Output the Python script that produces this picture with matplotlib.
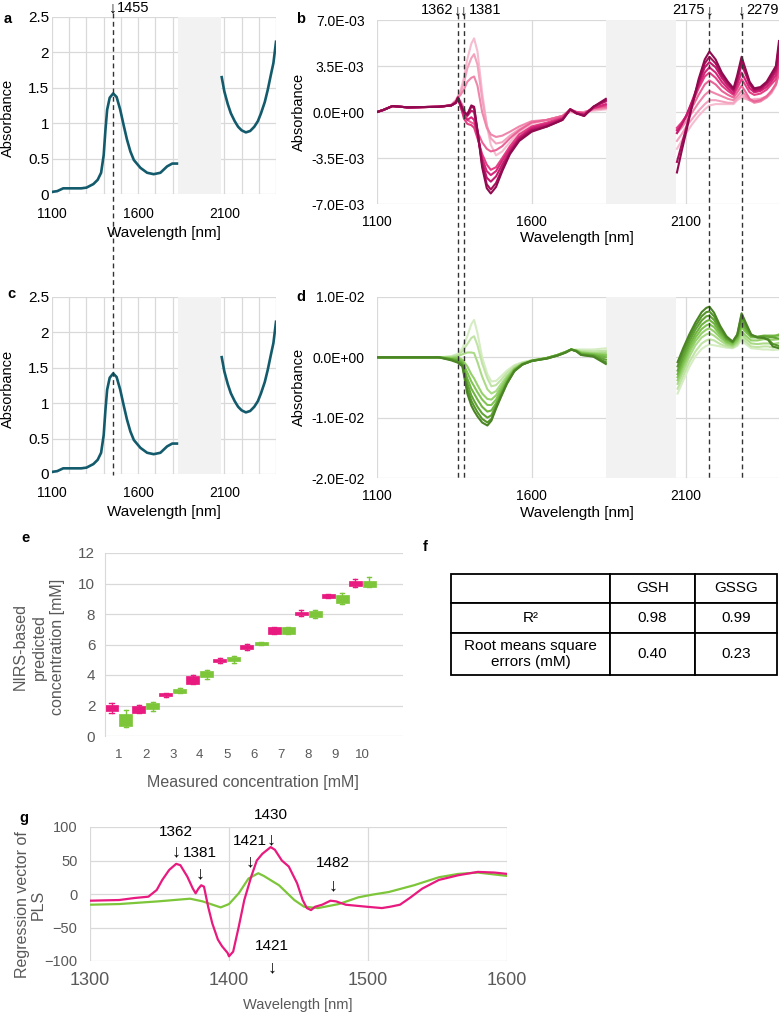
import numpy as np
import matplotlib
matplotlib.use("Agg")
import matplotlib.pyplot as plt
import matplotlib.transforms as mtransforms
from matplotlib.lines import Line2D
from matplotlib.ticker import FuncFormatter

plt.rcParams['font.family'] = ['Liberation Sans', 'DejaVu Sans']

# ---- panel a / c : raw absorbance spectrum ----
abs_wl_left = [1100, 1130, 1165, 1220, 1270, 1300, 1340, 1365, 1385, 1400, 1410, 1420, 1435,
               1455, 1475, 1496, 1515, 1535, 1555, 1575, 1613, 1652, 1690, 1729, 1768, 1798, 1825]
abs_left = [0.03, 0.04, 0.08, 0.08, 0.08, 0.09, 0.14, 0.20, 0.30, 0.55, 0.90, 1.19, 1.36,
            1.42, 1.37, 1.19, 0.98, 0.77, 0.60, 0.48, 0.37, 0.30, 0.28, 0.30, 0.39, 0.43, 0.43]
abs_wl_right = [2085, 2100, 2120, 2138, 2160, 2180, 2200, 2225, 2250, 2274, 2295, 2313,
                2335, 2352, 2370, 2385, 2400]
abs_right = [1.65, 1.45, 1.27, 1.14, 1.03, 0.95, 0.90, 0.87, 0.89, 0.95, 1.03, 1.14,
             1.30, 1.47, 1.68, 1.85, 2.15]

# ---- panel b : GSH difference spectra (x1e-3), lightest -> darkest ----
b_wl_left = [1100, 1120, 1150, 1200, 1300, 1340, 1355, 1362, 1370, 1381, 1392, 1405, 1414, 1425,
             1440, 1455, 1468, 1485, 1505, 1530, 1560, 1600, 1650, 1700, 1725, 1745, 1770, 1800, 1840]
b_left = [
    [0.0, 0.15, 0.45, 0.35, 0.4, 0.55, 0.9, 1.2, 1.6, 2.6, 4.0, 5.2, 5.6, 4.6, 1.5, -1.0, -2.5, -3.3, -3.0, -2.3, -1.5, -0.9, -0.6, -0.3, 0.0, -0.1, 0.0, 0.1, 0.2],
    [0.0, 0.15, 0.45, 0.35, 0.4, 0.55, 0.9, 1.2, 1.5, 2.2, 3.3, 4.1, 4.4, 3.6, 1.0, -1.0, -2.0, -2.4, -2.3, -1.8, -1.3, -0.8, -0.6, -0.3, 0.1, 0.0, 0.0, 0.2, 0.3],
    [0.0, 0.15, 0.45, 0.35, 0.4, 0.5, 0.8, 1.1, 1.3, 1.7, 2.3, 2.6, 2.7, 2.0, 0.0, -1.2, -1.7, -1.9, -1.8, -1.5, -1.1, -0.7, -0.6, -0.3, 0.1, -0.1, 0.0, 0.2, 0.3],
    [0.0, 0.15, 0.45, 0.35, 0.4, 0.5, 0.8, 1.1, 0.8, 0.3, -0.6, -0.8, -0.9, -1.5, -2.3, -2.8, -3.0, -2.9, -2.6, -2.0, -1.4, -0.8, -0.6, -0.3, 0.2, 0.0, -0.1, 0.3, 0.4],
    [0.0, 0.15, 0.45, 0.35, 0.4, 0.5, 0.8, 1.0, 0.5, -0.5, -0.9, -1.0, -1.2, -2.0, -3.2, -4.0, -4.4, -4.2, -3.5, -2.6, -1.7, -1.1, -0.8, -0.4, 0.2, 0.0, -0.1, 0.3, 0.5],
    [0.0, 0.15, 0.45, 0.35, 0.4, 0.5, 0.7, 1.0, 0.4, -0.3, -0.6, -0.4, -0.6, -1.8, -3.5, -4.5, -4.8, -4.5, -3.7, -2.8, -1.9, -1.2, -0.9, -0.5, 0.2, -0.1, -0.2, 0.3, 0.6],
    [0.0, 0.15, 0.45, 0.35, 0.4, 0.5, 0.7, 1.1, 0.5, -0.1, -0.3, 0.1, 0.0, -1.5, -3.8, -5.0, -5.3, -4.9, -4.0, -3.0, -2.0, -1.3, -1.0, -0.5, 0.2, -0.1, -0.2, 0.4, 0.8],
    [0.0, 0.15, 0.45, 0.35, 0.4, 0.5, 0.7, 1.1, 0.6, 0.0, -0.2, 0.4, 0.3, -1.5, -4.0, -5.5, -5.9, -5.4, -4.3, -3.1, -2.1, -1.4, -1.1, -0.6, 0.2, -0.1, -0.3, 0.4, 0.9],
    [0.0, 0.15, 0.45, 0.35, 0.4, 0.5, 0.7, 1.1, 0.6, 0.0, -0.2, 0.5, 0.4, -1.4, -4.2, -5.8, -6.2, -5.7, -4.5, -3.2, -2.2, -1.5, -1.1, -0.6, 0.2, -0.1, -0.3, 0.4, 1.0],
]
b_wl_right = [2070, 2085, 2100, 2120, 2140, 2160, 2175, 2195, 2215, 2235, 2253, 2265, 2279,
              2290, 2305, 2320, 2340, 2360, 2375, 2390, 2400]
b_right = [
    [-2.8, -2.2, -1.6, -0.9, -0.3, 0.2, 0.5, 0.6, 0.6, 0.6, 0.6, 0.9, 1.1, 1.0, 0.9, 1.0, 1.0, 1.1, 1.4, 2.0, 3.0],
    [-2.2, -1.7, -1.1, -0.5, 0.1, 0.6, 0.9, 0.9, 0.8, 0.7, 0.7, 1.0, 1.3, 1.1, 0.9, 0.9, 1.0, 1.2, 1.5, 2.2, 3.2],
    [-1.6, -1.2, -0.7, 0.0, 0.7, 1.3, 1.6, 1.4, 1.2, 1.0, 0.9, 1.2, 1.6, 1.3, 0.9, 0.7, 0.8, 1.1, 1.5, 2.1, 3.0],
    [-1.3, -0.9, -0.4, 0.4, 1.3, 2.1, 2.4, 2.1, 1.6, 1.3, 1.1, 1.5, 2.0, 1.6, 1.0, 0.8, 0.9, 1.2, 1.6, 2.1, 3.0],
    [-1.2, -0.8, -0.3, 0.7, 1.8, 2.7, 3.0, 2.6, 2.0, 1.6, 1.3, 1.8, 2.5, 2.1, 1.5, 1.3, 1.4, 1.7, 2.1, 2.5, 3.5],
    [-1.4, -0.9, -0.3, 0.8, 2.0, 3.0, 3.4, 3.0, 2.3, 1.8, 1.4, 2.1, 3.0, 2.5, 1.8, 1.5, 1.6, 1.9, 2.3, 2.8, 4.0],
    [-1.6, -1.0, -0.3, 0.9, 2.2, 3.4, 3.8, 3.4, 2.6, 2.0, 1.6, 2.4, 3.6, 3.0, 2.1, 1.6, 1.7, 2.1, 2.5, 3.1, 4.5],
    [-3.8, -2.5, -1.2, 0.6, 2.3, 3.7, 4.2, 3.7, 2.8, 2.2, 1.7, 2.6, 3.9, 3.2, 2.2, 1.7, 1.8, 2.2, 2.7, 3.3, 5.0],
    [-4.6, -3.0, -1.5, 0.6, 2.5, 4.0, 4.6, 4.0, 3.0, 2.3, 1.8, 2.8, 4.2, 3.4, 2.3, 1.8, 1.9, 2.3, 2.9, 3.5, 5.4],
]
b_colors = ['#f6bccf', '#f3a2bf', '#ef86ab', '#ea6497', '#e34185', '#d6267a', '#c21a6c', '#a8105c', '#8f0a4f']

# ---- panel d : GSSG difference spectra (x1e-3), lightest -> darkest ----
d_wl_left = [1100, 1200, 1300, 1340, 1362, 1376, 1392, 1405, 1414, 1425, 1440, 1457, 1470, 1485,
             1500, 1520, 1544, 1570, 1600, 1650, 1684, 1710, 1728, 1745, 1760, 1800, 1840]
d_left = [
    [0, 0, 0, 0.2, 0.6, 1.5, 3.5, 5.5, 6.2, 4.0, 0.0, -2.8, -4.0, -3.9, -3.2, -2.2, -1.3, -0.8, -0.5, -0.1, 0.4, 0.9, 1.2, 1.3, 1.3, 1.3, 1.5],
    [0, 0, 0, 0.1, 0.4, 1.0, 2.2, 3.2, 3.5, 2.0, -1.0, -3.5, -4.8, -4.6, -3.8, -2.6, -1.5, -0.9, -0.5, -0.1, 0.4, 0.9, 1.3, 1.2, 1.1, 1.0, 1.1],
    [0, 0, 0, 0.0, 0.2, 0.5, 0.8, 0.8, 0.7, -0.8, -3.2, -5.3, -6.0, -5.6, -4.5, -3.1, -1.8, -1.0, -0.5, -0.1, 0.4, 0.9, 1.3, 1.1, 0.9, 0.7, 0.8],
    [0, 0, 0, -0.1, 0.0, -0.4, -1.5, -2.8, -3.5, -4.6, -6.0, -6.9, -7.0, -6.3, -5.0, -3.4, -1.9, -1.1, -0.6, -0.1, 0.4, 0.9, 1.3, 1.1, 0.8, 0.6, 0.5],
    [0, 0, 0, -0.2, -0.2, -0.7, -2.5, -4.0, -4.8, -5.8, -7.0, -7.9, -7.9, -7.0, -5.5, -3.7, -2.0, -1.1, -0.6, -0.1, 0.4, 0.9, 1.3, 1.1, 0.7, 0.5, 0.3],
    [0, 0, 0, -0.3, -0.4, -0.9, -3.5, -5.2, -6.0, -7.0, -8.2, -9.0, -8.8, -7.6, -6.0, -4.0, -2.1, -1.1, -0.6, -0.1, 0.4, 0.9, 1.3, 1.1, 0.6, 0.4, 0.0],
    [0, 0, 0, -0.3, -0.6, -1.1, -4.3, -6.3, -7.2, -8.2, -9.3, -10.0, -9.6, -8.0, -6.3, -4.2, -2.2, -1.2, -0.6, -0.1, 0.3, 0.8, 1.3, 1.0, 0.5, 0.3, -0.4],
    [0, 0, 0, -0.4, -0.8, -1.3, -5.2, -7.2, -8.1, -9.1, -10.2, -10.8, -10.2, -8.3, -6.5, -4.3, -2.3, -1.2, -0.6, -0.2, 0.3, 0.8, 1.3, 1.0, 0.4, 0.2, -0.8],
    [0, 0, 0, -0.5, -0.9, -1.5, -6.0, -8.0, -8.9, -9.8, -10.8, -11.3, -10.5, -8.5, -6.7, -4.4, -2.3, -1.2, -0.6, -0.2, 0.3, 0.8, 1.3, 1.0, 0.4, 0.1, -1.1],
]
d_wl_right = [2072, 2090, 2110, 2130, 2150, 2165, 2175, 2190, 2210, 2230, 2250, 2265, 2279,
              2292, 2310, 2330, 2350, 2365, 2380, 2400]
d_right = [
    [-6.0, -3.9, -1.6, 0.2, 1.4, 1.9, 2.1, 2.0, 1.8, 1.6, 1.5, 1.9, 2.9, 2.2, 1.5, 1.4, 1.3, 1.3, 1.2, 1.3],
    [-5.2, -3.1, -0.8, 1.0, 2.3, 2.8, 3.0, 2.8, 2.2, 1.8, 1.6, 2.1, 3.3, 2.6, 1.8, 1.7, 1.8, 1.8, 1.6, 1.8],
    [-4.4, -2.3, 0.1, 2.0, 3.3, 3.8, 4.0, 3.6, 2.8, 2.1, 1.8, 2.4, 3.8, 3.1, 2.3, 2.2, 2.3, 2.3, 2.2, 2.4],
    [-3.8, -1.6, 0.8, 2.7, 4.0, 4.6, 4.8, 4.3, 3.3, 2.4, 2.0, 2.7, 4.3, 3.6, 2.8, 2.8, 3.0, 3.0, 2.9, 3.0],
    [-3.3, -1.0, 1.4, 3.3, 4.7, 5.3, 5.5, 5.0, 3.7, 2.6, 2.2, 3.0, 5.0, 4.2, 3.3, 3.3, 3.5, 3.5, 3.4, 3.8],
    [-2.8, -0.4, 2.0, 3.9, 5.4, 6.0, 6.2, 5.6, 4.1, 2.9, 2.4, 3.3, 5.6, 4.6, 3.5, 3.4, 3.6, 3.6, 3.6, 3.6],
    [-2.2, 0.2, 2.6, 4.6, 6.1, 6.8, 6.9, 6.2, 4.5, 3.1, 2.5, 3.5, 6.3, 5.0, 3.6, 3.4, 3.5, 3.4, 3.3, 3.1],
    [-1.5, 0.9, 3.2, 5.2, 6.8, 7.5, 7.6, 6.8, 4.9, 3.3, 2.6, 3.7, 7.0, 5.5, 3.7, 3.3, 3.3, 3.0, 2.2, 1.9],
    [-0.8, 1.5, 3.8, 5.8, 7.5, 8.2, 8.4, 7.4, 5.2, 3.5, 2.6, 3.8, 7.3, 5.8, 3.8, 3.3, 3.2, 2.9, 1.8, 1.5],
]
d_colors = ['#d6edc4', '#c1e4a6', '#abdb88', '#95d06b', '#80c452', '#70b441', '#62a435', '#56952c', '#4a8425']

# marked wavelengths
mark_a = 1455
marks_b = [1362, 1381, 2175, 2279]

# ---- panel e : predicted vs measured (box stats) ----
conc = np.arange(1, 11)
gsh_whislo = [1.54, 1.54, 2.54, 3.38, 4.78, 5.66, 6.71, 7.88, 9.03, 9.78]
gsh_q1 = [1.64, 1.54, 2.63, 3.44, 4.82, 5.72, 6.71, 7.92, 9.08, 9.82]
gsh_q3 = [2.06, 1.95, 2.83, 3.93, 5.07, 6.00, 7.13, 8.16, 9.30, 10.15]
gsh_whishi = [2.17, 2.06, 2.85, 3.99, 5.12, 6.05, 7.13, 8.25, 9.34, 10.30]
gssg_whislo = [0.59, 1.67, 2.85, 3.75, 4.76, 6.00, 6.71, 7.72, 8.64, 9.78]
gssg_q1 = [0.66, 1.75, 2.85, 3.84, 4.89, 6.00, 6.71, 7.78, 8.75, 9.78]
gssg_q3 = [1.47, 2.15, 3.05, 4.25, 5.20, 6.16, 7.13, 8.20, 9.25, 10.15]
gssg_whishi = [1.73, 2.24, 3.14, 4.30, 5.24, 6.16, 7.13, 8.25, 9.39, 10.40]

# ---- panel f : table ----
table_rows = [['', 'GSH', 'GSSG'],
              ['R²', '0.98', '0.99'],
              ['Root means square\nerrors (mM)', '0.40', '0.23']]

# ---- panel g : PLS regression vectors ----
g_wl_gsh = [1300, 1321, 1332, 1342, 1348, 1352, 1357, 1362, 1365, 1370, 1374, 1376, 1378, 1380, 1382,
            1385, 1388, 1392, 1395, 1399, 1400, 1403, 1407, 1411, 1416, 1420, 1424, 1430, 1433, 1438,
            1443, 1449, 1453, 1456, 1459, 1462, 1467, 1473, 1477, 1484, 1499, 1510, 1516, 1523, 1530,
            1539, 1551, 1565, 1579, 1591, 1600]
g_gsh = [-10, -9, -6, -4, 6, 21, 36, 45, 43, 26, 8, 1, 8, 13, 11,
         -19, -44, -68, -78, -88, -93, -86, -49, -9, 26, 50, 60, 70, 66, 50,
         41, 16, -9, -21, -24, -19, -16, -10, -11, -16, -19, -21, -19, -16, -6,
         8, 21, 28, 33, 32, 30]
g_wl_gssg = [1300, 1321, 1349, 1372, 1381, 1394, 1400, 1407, 1414, 1421, 1425, 1436, 1447, 1454,
             1464, 1479, 1493, 1503, 1515, 1533, 1551, 1565, 1579, 1600]
g_gssg = [-16, -15, -11, -7, -11, -20, -15, 1, 23, 31, 27, 13, -9, -19,
          -21, -15, -5, -1, 3, 13, 25, 30, 32, 27]
# label text, x (nm), text y, arrow y
g_notes = [('1362', 1362, 92, 63), ('1381', 1379, 61, 30), ('1421', 1415, 79, 48),
           ('1430', 1430, 118, 81), ('1482', 1475, 46, 12), ('1421', 1431, -78, -110)]

PINK = '#e8197f'
GREEN = '#7dc63a'
TEAL = '#135b6c'
GRID = '#d9d9d9'
GRAYTXT = '#595959'

W, H = 782, 1015
fig = plt.figure(figsize=(W / 100, H / 100), dpi=100)


def add_ax(l, t, r, b):
    return fig.add_axes([l / W, 1 - b / H, (r - l) / W, (b - t) / H])


def ftext(x, y, s, **kw):
    kw.setdefault('ha', 'center')
    kw.setdefault('va', 'center')
    return fig.text(x / W, 1 - y / H, s, **kw)


def setup_spec(ax, ylim, yticks, fmt, minor, gray, ypad, xpad, ysize):
    ax.set_xlim(1100, 2400)
    ax.set_ylim(*ylim)
    ax.set_xticks([1100, 1600, 2100])
    if minor:
        ax.set_xticks(np.arange(1100, 2401, 100), minor=True)
    ax.set_yticks(yticks)
    ax.yaxis.set_major_formatter(FuncFormatter(fmt))
    ax.grid(True, which='both', color=GRID, lw=0.9)
    ax.set_axisbelow(True)
    ax.tick_params(which='both', length=0, labelsize=10, colors='black')
    ax.tick_params(axis='y', pad=ypad, labelsize=ysize)
    ax.tick_params(axis='x', pad=xpad)
    for s in ax.spines.values():
        s.set_visible(False)
    ax.axvspan(gray[0], gray[1], color='#f2f2f2', lw=0, zorder=1)


# panels a and c
ax_a = add_ax(52, 17, 276, 194)
ax_c = add_ax(52, 297, 276, 474)
for ax in (ax_a, ax_c):
    setup_spec(ax, (0, 2.5), np.arange(0, 2.51, 0.5), lambda v, p: f'{v:g}', True,
               (1830, 2080), 2, 9, 11)
    ax.plot(abs_wl_left, abs_left, color=TEAL, lw=1.9, zorder=2)
    ax.plot(abs_wl_right, abs_right, color=TEAL, lw=1.9, zorder=2)

# panels b and d
sci = lambda v, p: f'{v:.1E}'
ax_b = add_ax(377, 20, 779, 204)
setup_spec(ax_b, (-7e-3, 7e-3), np.arange(-7e-3, 7.01e-3, 3.5e-3), sci, False,
           (1840, 2068), 9, 8, 10)
for vals_l, vals_r, col in zip(b_left, b_right, b_colors):
    ax_b.plot(b_wl_left, np.array(vals_l) * 1e-3, color=col, lw=1.5, zorder=2)
    ax_b.plot(b_wl_right, np.array(vals_r) * 1e-3, color=col, lw=1.5, zorder=2)

ax_d = add_ax(377, 297, 779, 478)
setup_spec(ax_d, (-2e-2, 1e-2), [-2e-2, -1e-2, 0, 1e-2], sci, False,
           (1840, 2068), 9, 8, 10)
for vals_l, vals_r, col in zip(d_left, d_right, d_colors):
    ax_d.plot(d_wl_left, np.array(vals_l) * 1e-3, color=col, lw=1.5, zorder=2)
    ax_d.plot(d_wl_right, np.array(vals_r) * 1e-3, color=col, lw=1.5, zorder=2)

# labels for a-d
ftext(8, 118, 'Absorbance', rotation=90, fontsize=10.5)
ftext(8, 389, 'Absorbance', rotation=90, fontsize=10.5)
ftext(299, 112, 'Absorbance', rotation=90, fontsize=10.5)
ftext(299, 387, 'Absorbance', rotation=90, fontsize=10.5)
ftext(164, 233, 'Wavelength [nm]', fontsize=11)
ftext(164, 512, 'Wavelength [nm]', fontsize=11)
ftext(577, 238, 'Wavelength [nm]', fontsize=11)
ftext(577, 513, 'Wavelength [nm]', fontsize=11)

# dashed marker lines crossing panels
dash_kw = dict(color='#333333', lw=1.0, ls=(0, (3.5, 2.5)), zorder=5)
blend_a = mtransforms.blended_transform_factory(ax_a.transData, fig.transFigure)
fig.add_artist(Line2D([mark_a, mark_a], [1 - 13 / H, 1 - 475 / H], transform=blend_a, **dash_kw))
blend_b = mtransforms.blended_transform_factory(ax_b.transData, fig.transFigure)
for m in marks_b:
    fig.add_artist(Line2D([m, m], [1 - 14 / H, 1 - 478 / H], transform=blend_b, **dash_kw))

xa = ax_a.transData.transform((mark_a, 0))[0]
ftext(xa, 8, '↓', fontsize=11.5)
ftext(xa + 4, 8, str(mark_a), ha='left', fontsize=10.5)
for i, m in enumerate(marks_b):
    xm = ax_b.transData.transform((m, 0))[0]
    ftext(xm, 10, '↓', fontsize=11)
    if i % 2 == 0:
        ftext(xm - 5, 10, str(m), ha='right', fontsize=10.5)
    else:
        ftext(xm + 5, 10, str(m), ha='left', fontsize=10.5)

# panel e
ax_e = add_ax(105, 553, 403, 736)


def box_stats(lo, q1, q3, hi):
    return [dict(whislo=a, q1=b, med=b, q3=c, whishi=d, fliers=[]) for a, b, c, d in zip(lo, q1, q3, hi)]


for stats, off, col in [(box_stats(gsh_whislo, gsh_q1, gsh_q3, gsh_whishi), -0.26, PINK),
                        (box_stats(gssg_whislo, gssg_q1, gssg_q3, gssg_whishi), 0.26, GREEN)]:
    ax_e.bxp(stats, positions=conc + off, widths=0.48, capwidths=0.15, patch_artist=True,
             boxprops=dict(facecolor=col, edgecolor=col, lw=0.5),
             whiskerprops=dict(color=col, lw=1), capprops=dict(color=col, lw=1),
             medianprops=dict(lw=0), showfliers=False, manage_ticks=False, zorder=2)
ax_e.set_xlim(0.5, 11.5)
ax_e.set_ylim(0, 12)
ax_e.set_xticks(conc)
ax_e.set_yticks(np.arange(0, 13, 2))
ax_e.grid(True, axis='y', color=GRID, lw=0.9)
ax_e.set_axisbelow(True)
for s in ['top', 'right', 'bottom']:
    ax_e.spines[s].set_visible(False)
ax_e.spines['left'].set_color(GRID)
ax_e.tick_params(length=0, colors=GRAYTXT)
ax_e.tick_params(axis='y', labelsize=11, pad=7)
ax_e.tick_params(axis='x', labelsize=9.5, pad=9)
ftext(253, 782, 'Measured concentration [mM]', fontsize=11.5, color=GRAYTXT)
ftext(39, 647, 'NIRS-based\npredicted\nconcentration [mM]', rotation=90, fontsize=11.5,
      color=GRAYTXT, linespacing=1.3)

# panel f
ax_f = add_ax(451, 574, 777, 675)
ax_f.axis('off')
tbl = ax_f.table(cellText=table_rows, cellLoc='center', bbox=[0, 0, 1, 1])
tbl.auto_set_font_size(False)
tbl.set_fontsize(11)
col_w = [159, 85, 82]
row_h = [29, 30, 42]
for (r, c), cell in tbl.get_celld().items():
    cell.set_width(col_w[c] / sum(col_w))
    cell.set_height(row_h[r] / sum(row_h))
    cell.set_linewidth(1.3)
    cell.set_edgecolor('black')

# panel g
ax_g = add_ax(90, 827, 507, 961)
ax_g.plot(g_wl_gsh, g_gsh, color=PINK, lw=1.6, zorder=3)
ax_g.plot(g_wl_gssg, g_gssg, color=GREEN, lw=1.6, zorder=2)
ax_g.set_xlim(1300, 1600)
ax_g.set_ylim(-100, 100)
ax_g.set_xticks(np.arange(1300, 1601, 100))
ax_g.set_yticks(np.arange(-100, 101, 50))
ax_g.grid(True, color=GRID, lw=0.9)
ax_g.set_axisbelow(True)
for s in ax_g.spines.values():
    s.set_visible(False)
ax_g.tick_params(length=0, colors=GRAYTXT)
ax_g.tick_params(axis='y', labelsize=10.5, pad=9)
ax_g.tick_params(axis='x', labelsize=13, pad=8)
for lab, x, ty, ay in g_notes:
    ax_g.text(x, ty, lab, ha='center', va='center', fontsize=11, clip_on=False)
    ax_g.text(x, ay, '↓', ha='center', va='center', fontsize=13, clip_on=False)
ftext(298, 1005, 'Wavelength [nm]', fontsize=10.5, color=GRAYTXT)
ftext(30, 905, 'Regression vector of\nPLS', rotation=90, fontsize=11.5, color=GRAYTXT,
      linespacing=1.05)

# panel letters
for lab, x, y in [('a', 8, 19), ('b', 301, 19), ('c', 11, 294), ('d', 301, 297),
                  ('e', 25, 538), ('f', 425, 547), ('g', 24, 818)]:
    ftext(x, y, lab, fontsize=10.5, fontweight='bold')

fig.savefig('out.png', dpi=100)
